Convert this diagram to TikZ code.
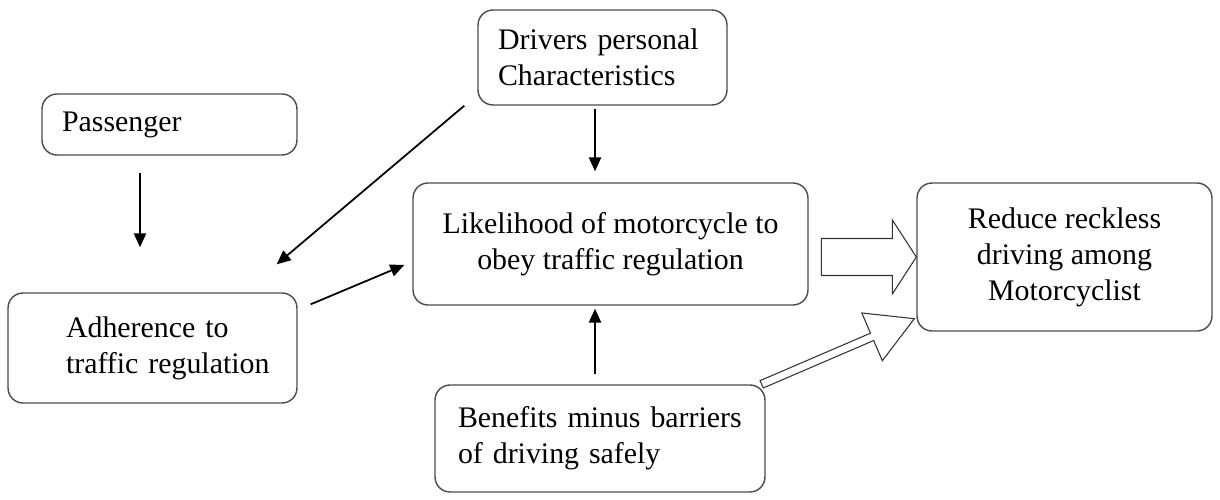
\documentclass[tikz,border=0pt]{standalone}
\usepackage{fontspec}
\setmainfont{Liberation Serif}
\usetikzlibrary{arrows.meta, calc}

% wide hollow arrow: from, to, half shaft, half head, head length
\newcommand{\hollowarrow}[5]{%
  \coordinate (hb) at ($(#2)!#5!(#1)$);
  \draw[hollow] ($(#1)!#3!90:(#2)$) -- ($(hb)!#3!90:(#2)$) -- ($(hb)!#4!90:(#2)$) -- (#2)
    -- ($(hb)!#4!-90:(#2)$) -- ($(hb)!#3!-90:(#2)$) -- ($(#1)!#3!-90:(#2)$) -- cycle;}

\begin{document}
\begin{tikzpicture}[x=0.02cm, y=-0.02cm,
    box/.style={draw=black!70, line width=0.8pt, rounded corners=0.3cm, inner ysep=0pt,
      font=\fontsize{17}{20.5}\selectfont},
    conn/.style={draw=black, line width=1pt, -{Triangle[length=8pt,width=7pt]}},
    hollow/.style={draw=black!80, line width=0.6pt, fill=white}]
  \useasboundingbox (0,0) rectangle (1220,500);

  \node[box, minimum width=5.1cm, minimum height=1.22cm, text width=4.3cm, inner xsep=0.4cm, align=left]
    (pass) at (169.5,124.5) {Passenger};
  \node[box, minimum width=4.98cm, minimum height=1.9cm, text width=4.18cm, inner xsep=0.4cm, align=left]
    (drv) at (602.5,57.5) {Drivers personal\\Characteristics};
  \node[box, minimum width=5.78cm, minimum height=2.2cm, text width=5.2cm, inner xsep=0pt, align=left]
    (adh) at (152.5,348) {\hspace*{0.87cm}Adherence to\\\hspace*{0.87cm}traffic regulation};
  \node[box, minimum width=7.9cm, minimum height=2.44cm, align=center]
    (lik) at (610.5,244) {Likelihood of motorcycle to\\obey traffic regulation};
  \node[box, minimum width=5.9cm, minimum height=2.96cm, align=center]
    (red) at (1064.5,257) {Reduce reckless\\driving among\\Motorcyclist};
  \node[box, minimum width=6.6cm, minimum height=2.14cm, text width=5.68cm, inner xsep=0.46cm, align=left]
    (ben) at (600,438.5) {Benefits minus barriers\\of driving safely};

  \draw[conn] ($(pass.south)+(-29.5,17)$) -- ($(adh.north)+(-12.5,-45)$);
  \draw[conn] ($(drv.south west)+(-13,0)$) -- ($(adh.north east)+(-21,-28)$);
  \draw[conn] ($(adh.north east)+(13,12)$) -- ($(lik.west)+(-8,21)$);
  \draw[conn] ($(drv.south)+(-7.5,3)$) -- ($(lik.north)+(-15.5,-11)$);
  \draw[conn] ($(ben.north)+(-5,-10)$) -- ($(lik.south)+(-15.5,3)$);

  \coordinate (f1) at ($(red.west)+(-95,0)$);
  \hollowarrow{f1}{red.west}{0.37cm}{0.74cm}{0.48cm}
  \coordinate (f2a) at ($(ben.north east)+(-4,0)$);
  \coordinate (f2b) at ($(red.south west)+(-2,-13)$);
  \hollowarrow{f2a}{f2b}{0.08cm}{0.52cm}{0.92cm}
\end{tikzpicture}
\end{document}
